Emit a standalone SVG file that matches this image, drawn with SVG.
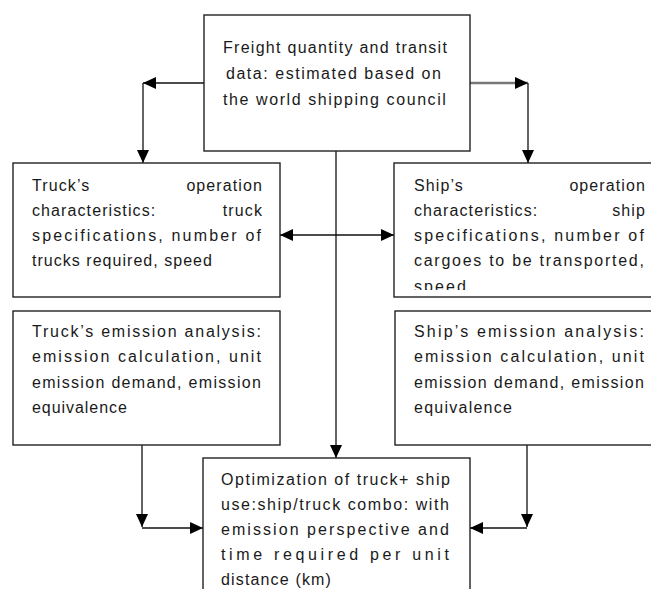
<svg xmlns="http://www.w3.org/2000/svg" width="651" height="589" viewBox="0 0 651 589">
<style>
.box{fill:#fff;stroke:#222;stroke-width:1.4}
.t{font-family:"Liberation Sans",Arial,sans-serif;font-size:16px;fill:#1a1a1a;letter-spacing:1.1px}
.c{stroke:#111;stroke-width:1.3;fill:none}
.g{stroke:#777;stroke-width:2.4;fill:none}
</style>
<defs>
<marker id="ah" markerUnits="userSpaceOnUse" markerWidth="13" markerHeight="12" refX="13" refY="6" orient="auto-start-reverse"><path d="M0,0 L13,6 L0,12 z" fill="#000"/></marker>
<clipPath id="clipShip"><rect x="394" y="163" width="260" height="127"/></clipPath>
</defs>
<rect width="651" height="589" fill="#fff"/>
<g id="connectors">
<path class="c" d="M204,83 H143" marker-end="url(#ah)"/>
<path class="c" d="M143,83 V163" marker-end="url(#ah)"/>
<path class="g" d="M470,83 H528" marker-end="url(#ah)"/>
<path class="c" d="M528,83 V163" marker-end="url(#ah)"/>
<path class="c" d="M336,151 V458" marker-end="url(#ah)"/>
<path class="c" d="M280,235 H394" marker-start="url(#ah)" marker-end="url(#ah)"/>
<path class="c" d="M142,445 V527" marker-end="url(#ah)"/>
<path class="c" d="M142,528 H203" marker-end="url(#ah)"/>
<path class="c" d="M527,445 V527" marker-end="url(#ah)"/>
<path class="c" d="M527,528 H470" marker-end="url(#ah)"/>
</g>
<g id="freight">
<rect class="box" x="204" y="15" width="266" height="136"/>
<text class="t" x="223" y="53" textLength="225" lengthAdjust="spacing">Freight quantity and transit</text>
<text class="t" x="226" y="79" textLength="216" lengthAdjust="spacing">data: estimated based on</text>
<text class="t" x="223" y="105" textLength="224" lengthAdjust="spacing">the world shipping council</text>
</g>
<g id="truck-op">
<rect class="box" x="13" y="163" width="267" height="134"/>
<text class="t" x="32" y="191">Truck’s</text>
<text class="t" x="263" y="191" text-anchor="end">operation</text>
<text class="t" x="32" y="216">characteristics:</text>
<text class="t" x="263" y="216" text-anchor="end">truck</text>
<text class="t" x="32" y="241" textLength="230" lengthAdjust="spacing">specifications, number of</text>
<text class="t" x="32" y="266" textLength="181" lengthAdjust="spacing">trucks required, speed</text>
</g>
<g id="ship-op">
<rect class="box" x="394" y="163" width="270" height="134"/>
<g clip-path="url(#clipShip)">
<text class="t" x="414" y="191">Ship’s</text>
<text class="t" x="646" y="191" text-anchor="end">operation</text>
<text class="t" x="414" y="216">characteristics:</text>
<text class="t" x="646" y="216" text-anchor="end">ship</text>
<text class="t" x="414" y="241" textLength="231" lengthAdjust="spacing">specifications, number of</text>
<text class="t" x="414" y="266" textLength="231" lengthAdjust="spacing">cargoes to be transported,</text>
<text class="t" x="414" y="292" textLength="53" lengthAdjust="spacing">speed</text>
</g>
</g>
<g id="truck-em">
<rect class="box" x="13" y="311" width="267" height="134"/>
<text class="t" x="32" y="337" textLength="230" lengthAdjust="spacing">Truck’s emission analysis:</text>
<text class="t" x="32" y="362" textLength="230" lengthAdjust="spacing">emission calculation, unit</text>
<text class="t" x="32" y="388" textLength="230" lengthAdjust="spacing">emission demand, emission</text>
<text class="t" x="32" y="413" textLength="96" lengthAdjust="spacing">equivalence</text>
</g>
<g id="ship-em">
<rect class="box" x="395" y="311" width="270" height="134"/>
<text class="t" x="414" y="337" textLength="231" lengthAdjust="spacing">Ship’s emission analysis:</text>
<text class="t" x="414" y="362" textLength="231" lengthAdjust="spacing">emission calculation, unit</text>
<text class="t" x="414" y="388" textLength="231" lengthAdjust="spacing">emission demand, emission</text>
<text class="t" x="414" y="413" textLength="99" lengthAdjust="spacing">equivalence</text>
</g>
<g id="optimization">
<rect class="box" x="203" y="458" width="267" height="145"/>
<text class="t" x="221" y="485" textLength="230" lengthAdjust="spacing">Optimization of truck+ ship</text>
<text class="t" x="221" y="510" textLength="229" lengthAdjust="spacing">use:ship/truck combo: with</text>
<text class="t" x="221" y="535" textLength="229" lengthAdjust="spacing">emission perspective and</text>
<text class="t" x="221" y="560" textLength="229" lengthAdjust="spacing">time required per unit</text>
<text class="t" x="221" y="585" textLength="111" lengthAdjust="spacing">distance (km)</text>
</g>
</svg>
